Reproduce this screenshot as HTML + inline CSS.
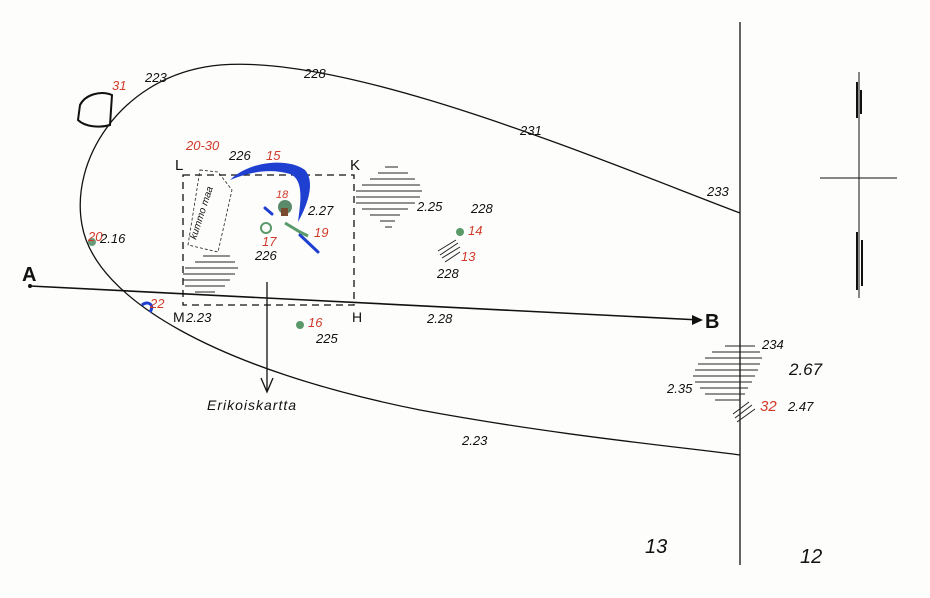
<!DOCTYPE html>
<html><head><meta charset="utf-8"><style>
html,body{margin:0;padding:0;background:#fff}
svg{display:block}
text{font-family:"Liberation Sans",sans-serif;font-style:italic}
.b{fill:#111;font-size:13px}
.r{fill:#d03a2a;font-size:13px}
</style></head><body>
<svg width="930" height="598" viewBox="0 0 930 598" xmlns="http://www.w3.org/2000/svg">
<rect width="930" height="598" fill="#fdfdfb"/>
<path d="M740,213 C600,160 330,45 205,67 C120,82 70,160 82,225 C95,300 220,370 420,410 C560,436 690,448 740,455" fill="none" stroke="#111" stroke-width="1.3"/>
<line x1="740" y1="22" x2="740" y2="565" stroke="#111" stroke-width="1.3"/>
<line x1="859" y1="72" x2="859" y2="298" stroke="#111" stroke-width="1"/>
<line x1="820" y1="178" x2="897" y2="178" stroke="#111" stroke-width="1"/>
<path d="M857,82 L857,118 M861,90 L861,114 M857,232 L857,290 M862,240 L862,286" stroke="#111" stroke-width="2"/>
<line x1="30" y1="286" x2="700" y2="320" stroke="#111" stroke-width="1.6"/>
<path d="M703,320 L692,315 L692,325 Z" fill="#111"/>
<circle cx="30" cy="286" r="2" fill="#111"/>
<text x="22" y="281" style="font-size:20px;font-weight:bold;font-style:normal" fill="#111">A</text>
<text x="705" y="328" style="font-size:20px;font-weight:bold;font-style:normal" fill="#111">B</text>
<rect x="183" y="175" width="171" height="130" fill="none" stroke="#111" stroke-width="1.3" stroke-dasharray="7,5"/>
<text x="175" y="170" class="b" style="font-size:15px;font-style:normal">L</text>
<text x="350" y="170" class="b" style="font-size:15px;font-style:normal">K</text>
<text x="173" y="322" class="b" style="font-size:14px;font-style:normal">M</text>
<text x="352" y="322" class="b" style="font-size:14px;font-style:normal">H</text>
<path d="M200,170 L218,172 L232,190 L218,252 L188,245 Z" fill="none" stroke="#222" stroke-width="0.8" stroke-dasharray="3,2"/>
<text x="196" y="240" class="b" style="font-size:10px" transform="rotate(-72 196 240)">kummo maa</text>
<line x1="267" y1="282" x2="267" y2="390" stroke="#111" stroke-width="1.3"/>
<path d="M261,378 L267,392 L273,378" fill="none" stroke="#111" stroke-width="1.3"/>
<text x="207" y="410" class="b" style="font-size:14px;letter-spacing:1px">Erikoiskartta</text>
<path d="M230,180 C250,160 290,158 305,170 C318,185 302,215 298,222 C300,205 305,180 290,174 C270,168 250,172 230,180 Z" fill="#1f3fd0"/>
<path d="M265,208 L272,214 M300,235 L318,252" stroke="#1f3fd0" stroke-width="3" stroke-linecap="round"/>
<circle cx="285" cy="207" r="7" fill="#5a8a6a"/>
<rect x="281" y="208" width="7" height="8" fill="#7a4a30"/>
<circle cx="266" cy="228" r="5" fill="none" stroke="#5a9a6a" stroke-width="2"/>
<path d="M285,223 L300,232 L308,236" stroke="#5a9a6a" stroke-width="3"/>
<g stroke="#222" stroke-width="1">
<line x1="385" y1="167" x2="398" y2="167"/><line x1="378" y1="173" x2="408" y2="173"/><line x1="370" y1="179" x2="415" y2="179"/><line x1="362" y1="185" x2="420" y2="185"/><line x1="356" y1="191" x2="422" y2="191"/><line x1="356" y1="197" x2="420" y2="197"/><line x1="356" y1="203" x2="415" y2="203"/><line x1="362" y1="209" x2="408" y2="209"/><line x1="370" y1="215" x2="400" y2="215"/><line x1="380" y1="221" x2="395" y2="221"/><line x1="385" y1="227" x2="392" y2="227"/>
<line x1="203" y1="256" x2="230" y2="256"/><line x1="195" y1="262" x2="235" y2="262"/><line x1="185" y1="268" x2="238" y2="268"/><line x1="183" y1="274" x2="235" y2="274"/><line x1="183" y1="280" x2="230" y2="280"/><line x1="185" y1="286" x2="225" y2="286"/><line x1="195" y1="292" x2="215" y2="292"/>
<line x1="725" y1="346" x2="755" y2="346"/><line x1="712" y1="352" x2="760" y2="352"/><line x1="705" y1="358" x2="762" y2="358"/><line x1="698" y1="364" x2="760" y2="364"/><line x1="695" y1="370" x2="758" y2="370"/><line x1="693" y1="376" x2="755" y2="376"/><line x1="695" y1="382" x2="752" y2="382"/><line x1="700" y1="388" x2="748" y2="388"/><line x1="705" y1="394" x2="745" y2="394"/><line x1="715" y1="400" x2="740" y2="400"/>
<path d="M440,255 L458,243 M438,251 L456,240 M442,258 L460,247 M445,262 L460,252"/>
<path d="M735,418 L752,405 M737,422 L755,409 M733,414 L749,402"/>
</g>
<path d="M80,105 C85,95 100,90 112,95 L110,125 C100,128 85,127 78,120 Z" fill="none" stroke="#111" stroke-width="2"/>
<circle cx="92" cy="242" r="4" fill="#6a9a7a"/>
<circle cx="460" cy="232" r="4" fill="#5a9a6a"/>
<circle cx="300" cy="325" r="4" fill="#5a9a6a"/>
<path d="M142,305 C148,300 155,305 150,312" fill="none" stroke="#1f3fd0" stroke-width="3"/>
<text x="112" y="90" class="r">31</text><text x="145" y="82" class="b">223</text>
<text x="304" y="78" class="b">228</text><text x="520" y="135" class="b">231</text><text x="707" y="196" class="b">233</text>
<text x="186" y="150" class="r">20-30</text><text x="229" y="160" class="b">226</text><text x="266" y="160" class="r">15</text>
<text x="276" y="198" class="r" style="font-size:11px">18</text><text x="308" y="215" class="b">2.27</text><text x="314" y="237" class="r">19</text>
<text x="262" y="246" class="r">17</text><text x="255" y="260" class="b">226</text>
<text x="417" y="211" class="b">2.25</text><text x="471" y="213" class="b">228</text><text x="468" y="235" class="r">14</text><text x="461" y="261" class="r">13</text><text x="437" y="278" class="b">228</text>
<text x="88" y="241" class="r">20</text><text x="100" y="243" class="b">2.16</text><text x="150" y="308" class="r">22</text>
<text x="186" y="322" class="b">2.23</text><text x="427" y="323" class="b">2.28</text><text x="308" y="327" class="r">16</text><text x="316" y="343" class="b">225</text>
<text x="762" y="349" class="b">234</text><text x="789" y="375" class="b" style="font-size:17px">2.67</text><text x="667" y="393" class="b">2.35</text>
<text x="760" y="411" class="r" style="font-size:15px">32</text><text x="788" y="411" class="b">2.47</text>
<text x="462" y="445" class="b">2.23</text>
<text x="645" y="553" class="b" style="font-size:20px">13</text><text x="800" y="563" class="b" style="font-size:20px">12</text>
</svg>
</body></html>
